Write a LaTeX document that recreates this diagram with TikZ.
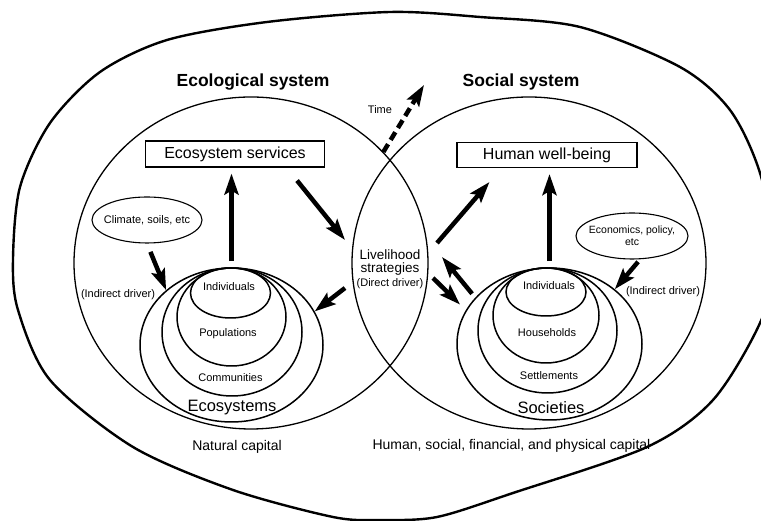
\documentclass[tikz,border=0pt]{standalone}
\usepackage{fontspec}
\setmainfont{Liberation Sans}
\usetikzlibrary{shapes.geometric,arrows.meta}

\tikzset{
  sysring/.style={draw, ellipse, line width=1.3pt, inner sep=0pt},
  nest/.style={draw, ellipse, line width=1.5pt, inner sep=0pt},
  outcome/.style={draw, rectangle, line width=1.1pt, inner sep=0pt, font=\fontsize{16}{18}\selectfont},
  driver/.style={draw, ellipse, line width=1.1pt, inner sep=0pt},
  bigarrow/.style={line width=4.5pt, -{Stealth[length=21pt,width=14pt,inset=4pt]}},
  small/.style={font=\fontsize{11}{13}\selectfont, align=center},
  title/.style={font=\bfseries\fontsize{17.5}{20}\selectfont},
  level/.style={font=\fontsize{16.5}{19}\selectfont},
  capital/.style={font=\fontsize{14}{16}\selectfont},
}

\begin{document}
\begin{tikzpicture}[x=1pt,y=1pt]
\useasboundingbox (0,0) rectangle (761,521);
%-------->outer boundary<--------------
\draw[line width=2.4pt] plot[smooth cycle, tension=0.5] coordinates {
  (390,509) (480,504) (580,494) (680,454) (730,411) (760,348) (776,262)
  (760,198) (713,121) (647,74) (513,28) (437,4) (380,1) (333,4) (233,31)
  (133,74) (50,141) (18,211) (13,262) (20,334) (50,398) (100,449)
  (167,481) (267,499)};
%-------->the two systems<--------------
\node[sysring, minimum width=354pt, minimum height=332pt] (ecoSys) at (251,258) {};
\node[sysring, minimum width=354pt, minimum height=332pt] (socSys) at (529,258) {};
\node[title] (ecoTitle) at (253,439) {Ecological system};
\node[title] (socTitle) at (521,439) {Social system};
%-------->boxes and drivers<--------------
\node[outcome, minimum width=179pt, minimum height=26pt] (esbox) at (235,367) {Ecosystem services};
\node[outcome, minimum width=180pt, minimum height=25pt] (hwbbox) at (547,366) {Human well-being};
\node[driver, minimum width=110pt, minimum height=46pt] (climate) at (147,301) {};
\node[small] (climateText) at (climate) {Climate, soils, etc};
\node[driver, minimum width=112pt, minimum height=46pt] (econ) at (632,285) {};
\node[small, font=\fontsize{10.5}{12.5}\selectfont] (econText) at (econ) {Economics, policy,\\etc};
\node[small] (drvL) at (118,226) {(Indirect driver)};
\node[small] (drvR) at (663,229) {(Indirect driver)};
\node[align=center, inner sep=0pt, font=\fontsize{13.5}{13.5}\selectfont] (liv) at (390,252)
  {Livelihood\\strategies\\{\fontsize{11}{13}\selectfont (Direct driver)}};
\node[small] (time) at (380,411) {Time};
%-------->ecological levels<--------------
\node[nest, minimum width=183pt, minimum height=154pt] (ecoL) at (231.5,176) {};
\node[nest, minimum width=140pt, minimum height=128pt] (comL) at (232,189) {};
\node[nest, minimum width=109pt, minimum height=98pt] (popL) at (231.5,204) {};
\node[nest, minimum width=80pt, minimum height=50pt] (indL) at (230.5,228) {};
\node[small] (indLText) at (229,234) {Individuals};
\node[small] (popLText) at (228,187) {Populations};
\node[small] (comLText) at (230.5,143) {Communities};
\node[level] (ecoLText) at (232,113) {Ecosystems};
%-------->social levels<--------------
\node[nest, minimum width=185pt, minimum height=152pt] (socR) at (549.5,177) {};
\node[nest, minimum width=139pt, minimum height=125pt] (setR) at (547.5,190.5) {};
\node[nest, minimum width=106pt, minimum height=95pt] (houR) at (546,205.5) {};
\node[nest, minimum width=80pt, minimum height=48pt] (indR) at (546,229) {};
\node[small] (indRText) at (549,235) {Individuals};
\node[small] (houRText) at (547,188) {Households};
\node[small] (setRText) at (549,145) {Settlements};
\node[level] (socRText) at (551,113) {Societies};
%-------->capital<--------------
\node[capital] (natcap) at (237,74) {Natural capital};
\node[capital] (humcap) at (511.5,75) {Human, social, financial, and physical capital};
%-------->arrows<--------------
\draw[bigarrow, shorten <=6pt, shorten >=6pt] (ecoL.north) -- (ecoL.north |- esbox.south);
\draw[bigarrow] ([xshift=-28pt,yshift=-13pt]esbox.south east) -- ([shift={(-45pt,29pt)}]liv.center);
\draw[bigarrow, shorten <=9pt] (climate.south) -- (ecoL.140);
\draw[bigarrow] ([shift={(-45pt,-19pt)}]liv.center) -- (ecoL.22);
\draw[bigarrow] ([shift={(47pt,26pt)}]liv.center) -- ([shift={(33pt,-14pt)}]hwbbox.south west);
\draw[bigarrow, shorten >=8pt] ([shift={(43pt,-9pt)}]liv.center) -- (socR.158);
\draw[bigarrow, shorten <=5pt] (socR.148) -- ([shift={(52pt,12pt)}]liv.center);
\draw[bigarrow, shorten <=6pt, shorten >=6pt] (socR.north) -- (socR.north |- hwbbox.south);
\draw[bigarrow, shorten <=3pt] ([xshift=8pt]econ.south) -- (socR.40);
%-------->time<--------------
\coordinate (future) at (424,436);
\draw[bigarrow, dash pattern=on 9pt off 5pt] (ecoSys.40) -- (future);
\end{tikzpicture}
\end{document}
